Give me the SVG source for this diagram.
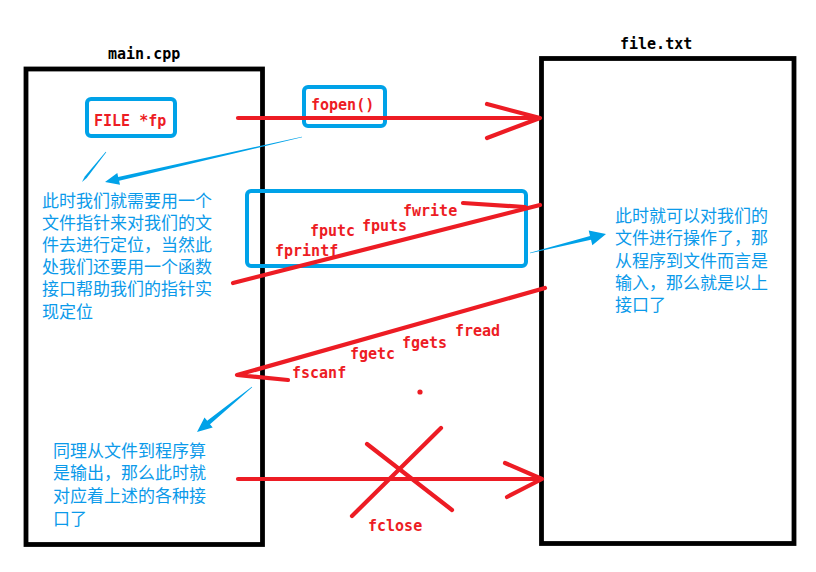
<svg xmlns="http://www.w3.org/2000/svg" width="816" height="572" viewBox="0 0 816 572">
<style>
.frame{fill:none;stroke:#000;stroke-width:4.8}
.bbox{fill:none;stroke:#00a2e8;stroke-width:4;}
.title{font-family:"DejaVu Sans Mono","Liberation Mono",monospace;font-size:15px;font-weight:bold;fill:#000}
.code{font-family:"DejaVu Sans Mono","Liberation Mono",monospace;font-size:15px;font-weight:bold;fill:#ed1c24}
.note{font-family:"Noto Sans CJK SC","Noto Sans",sans-serif;font-size:17px;fill:#0b9aea}
.red{fill:none;stroke:#ed1c24;stroke-width:4.2;stroke-linecap:round;stroke-linejoin:round}
.blue{fill:#00a2e8;stroke:none}
</style>
<rect width="816" height="572" fill="#fff"/>

<g id="main-cpp">
<rect class="frame" x="26" y="69" width="236.5" height="475.5"/>
<text class="title" x="108" y="59">main.cpp</text>
</g>

<g id="file-txt">
<rect class="frame" x="541.5" y="58.5" width="252.5" height="485"/>
<text class="title" x="620" y="48.5">file.txt</text>
</g>

<g id="file-fp">
<rect class="bbox" x="87" y="99" width="88" height="37" rx="4"/>
<text class="code" x="94" y="125.5">FILE *fp</text>
</g>

<g id="fopen">
<rect class="bbox" x="304" y="87" width="81" height="39" rx="4"/>
<text class="code" x="311" y="109.5">fopen()</text>
</g>

<g id="write-funcs">
<rect class="bbox" x="247" y="191" width="279" height="75" rx="4"/>
<text class="code" x="403" y="216">fwrite</text>
<text class="code" x="362" y="230.5">fputs</text>
<text class="code" x="310" y="235.5">fputc</text>
<text class="code" x="275" y="255.5">fprintf</text>
</g>

<g id="read-funcs">
<text class="code" x="455" y="335.5">fread</text>
<text class="code" x="402" y="348">fgets</text>
<text class="code" x="350" y="359">fgetc</text>
<text class="code" x="292" y="377.5">fscanf</text>
</g>

<g id="fclose">
<text class="code" x="368" y="531">fclose</text>
</g>

<g id="note-left">
<text class="note" x="42" y="206.5">此时我们就需要用一个</text>
<text class="note" x="42" y="228.7">文件指针来对我们的文</text>
<text class="note" x="42" y="250.9">件去进行定位，当然此</text>
<text class="note" x="42" y="273.1">处我们还要用一个函数</text>
<text class="note" x="42" y="295.3">接口帮助我们的指针实</text>
<text class="note" x="42" y="317.5">现定位</text>
</g>

<g id="note-right">
<text class="note" x="615" y="222">此时就可以对我们的</text>
<text class="note" x="615" y="244.3">文件进行操作了，那</text>
<text class="note" x="615" y="266.6">从程序到文件而言是</text>
<text class="note" x="615" y="288.9">输入，那么就是以上</text>
<text class="note" x="615" y="311.2">接口了</text>
</g>

<g id="note-bottom">
<text class="note" x="53" y="456.5">同理从文件到程序算</text>
<text class="note" x="53" y="479.2">是输出，那么此时就</text>
<text class="note" x="53" y="501.9">对应着上述的各种接</text>
<text class="note" x="53" y="524.6">口了</text>
</g>

<g id="connectors">
<!-- fopen arrow -->
<path class="red" d="M238 118 H540 M487 104 L540 118 L487 138"/>
<!-- write arrow -->
<path class="red" d="M233 283 L540 205"/>
<path class="red" d="M463 203 L525 207"/>
<!-- read arrow -->
<path class="red" d="M545 288 L237 375 L288 380"/>
<!-- dot -->
<circle cx="420" cy="392" r="2.6" fill="#ed1c24"/>
<!-- fclose arrow and cross -->
<path class="red" d="M238 479 H542 M505 463 L542 479 L507 497"/>
<path class="red" d="M367 444 L452 510 M441 428 L352 516"/>
<!-- blue arrows -->
<polygon class="blue" points="302.07,137.3 119.1,180.8 120.0,184.7 105,182 117.3,173.0 118.2,176.9 301.93,136.7"/>
<polygon class="blue" points="106.25,152.2 86.7,178.1 82,182 84.8,176.6 105.75,151.8"/>
<polygon class="blue" points="530.07,253.3 591.0,239.8 592.3,245.2 606,234 588.7,230.6 590.0,236.0 529.93,252.7"/>
<polygon class="blue" points="252.2,387.25 210.0,424.2 212.7,427.5 197,432 204.5,417.5 207.2,420.8 251.8,386.75"/>
</g>
</svg>
